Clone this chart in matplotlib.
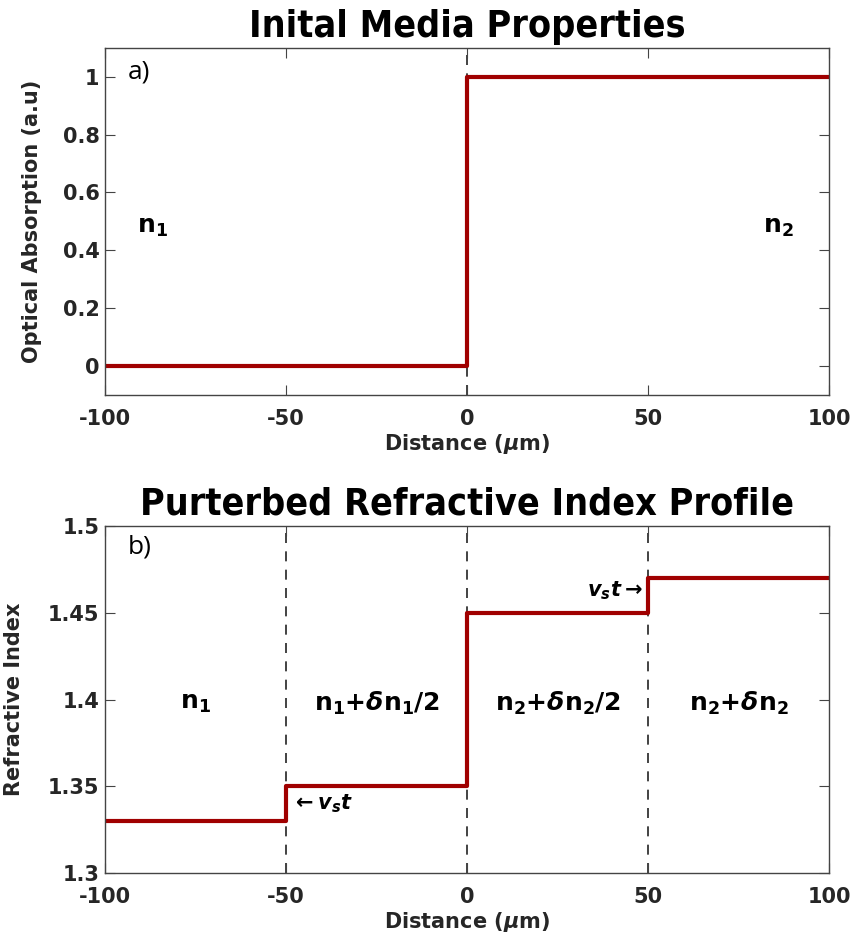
import matplotlib
matplotlib.use('Agg')
import matplotlib.pyplot as plt

# step profiles (x in um)
x_abs = [-100, 0, 0, 100]
y_abs = [0, 0, 1, 1]

x_ri = [-100, -50, -50, 0, 0, 50, 50, 100]
y_ri = [1.33, 1.33, 1.35, 1.35, 1.45, 1.45, 1.47, 1.47]

boundaries_top = [0]
boundaries_bot = [-50, 0, 50]
xticks = [-100, -50, 0, 50, 100]
yticks_top = [0, 0.2, 0.4, 0.6, 0.8, 1]
ytick_labels_top = ['0', '0.2', '0.4', '0.6', '0.8', '1']
yticks_bot = [1.3, 1.35, 1.4, 1.45, 1.5]
ytick_labels_bot = ['1.3', '1.35', '1.4', '1.45', '1.5']

red = '#a00000'
txt = '#262626'
plt.rcParams['font.family'] = 'DejaVu Sans'
plt.rcParams['font.weight'] = 'bold'

fig = plt.figure(figsize=(8.55, 9.43), dpi=100)
ax1 = fig.add_axes([0.1228, 0.5812, 0.8468, 0.368])
ax2 = fig.add_axes([0.1228, 0.0742, 0.8468, 0.368])

def style(ax):
    ax.set_xlim(-100, 100)
    ax.set_xticks(xticks)
    ax.set_xticklabels([str(t) for t in xticks])
    ax.tick_params(direction='in', top=True, right=True, labelsize=15, length=7,
                   color='#444444', labelcolor=txt, pad=4)
    ax.tick_params(axis='x', pad=10)
    for s in ax.spines.values():
        s.set_color('#444444')
        s.set_linewidth(1)
    ax.set_xlabel(r'Distance ($\mu$m)', fontsize=15, fontweight='bold', color=txt, labelpad=2)

# a) absorption
ax1.plot(x_abs, y_abs, color=red, lw=3)
for b in boundaries_top:
    ax1.axvline(b, color='#222222', ls=(0, (6, 5)), lw=1.2, zorder=0)
ax1.set_ylim(-0.1, 1.1)
ax1.set_yticks(yticks_top)
ax1.set_yticklabels(ytick_labels_top)
style(ax1)
ax1.set_ylabel('Optical Absorption (a.u)', fontsize=15, fontweight='bold', color=txt)
ax1.yaxis.set_label_coords(-0.087, 0.5)
ax1.set_title('Inital Media Properties', fontsize=27, fontweight='bold',
              fontstretch='condensed', pad=8)
ax1.text(-90.5, 1.016, 'a)', fontsize=19, fontweight='normal', family='Open Sans',
         ha='center', va='center')
ax1.text(-87, 0.48, r'$\mathbf{n_1}$', fontsize=18, ha='center', va='center')
ax1.text(86, 0.48, r'$\mathbf{n_2}$', fontsize=18, ha='center', va='center')

# b) refractive index
ax2.plot(x_ri, y_ri, color=red, lw=3)
for b in boundaries_bot:
    ax2.axvline(b, color='#222222', ls=(0, (6, 5)), lw=1.2, zorder=0)
ax2.set_ylim(1.3, 1.5)
ax2.set_yticks(yticks_bot)
ax2.set_yticklabels(ytick_labels_bot)
style(ax2)
ax2.set_ylabel('Refractive Index', fontsize=15, fontweight='bold', color=txt)
ax2.yaxis.set_label_coords(-0.112, 0.5)
ax2.set_title('Purterbed Refractive Index Profile', fontsize=27, fontweight='bold',
              fontstretch='condensed', pad=8)
ax2.text(-90.5, 1.488, 'b)', fontsize=19, fontweight='normal', family='Open Sans',
         ha='center', va='center')
ax2.text(-75, 1.398, r'$\mathbf{n_1}$', fontsize=18, ha='center', va='center')
ax2.text(-25, 1.398, r'$\mathbf{n_1{+}}\delta\mathbf{n_1/2}$', fontsize=18, ha='center', va='center')
ax2.text(25, 1.398, r'$\mathbf{n_2{+}}\delta\mathbf{n_2/2}$', fontsize=18, ha='center', va='center')
ax2.text(75, 1.398, r'$\mathbf{n_2{+}}\delta\mathbf{n_2}$', fontsize=18, ha='center', va='center')
ax2.text(-48.5, 1.340, r'$\leftarrow\mathbfit{v_s t}$', fontsize=15, ha='left', va='center')
ax2.text(48.5, 1.463, r'$\mathbfit{v_s t}\rightarrow$', fontsize=15, ha='right', va='center')

fig.savefig('out.png', dpi=100, facecolor='white')
